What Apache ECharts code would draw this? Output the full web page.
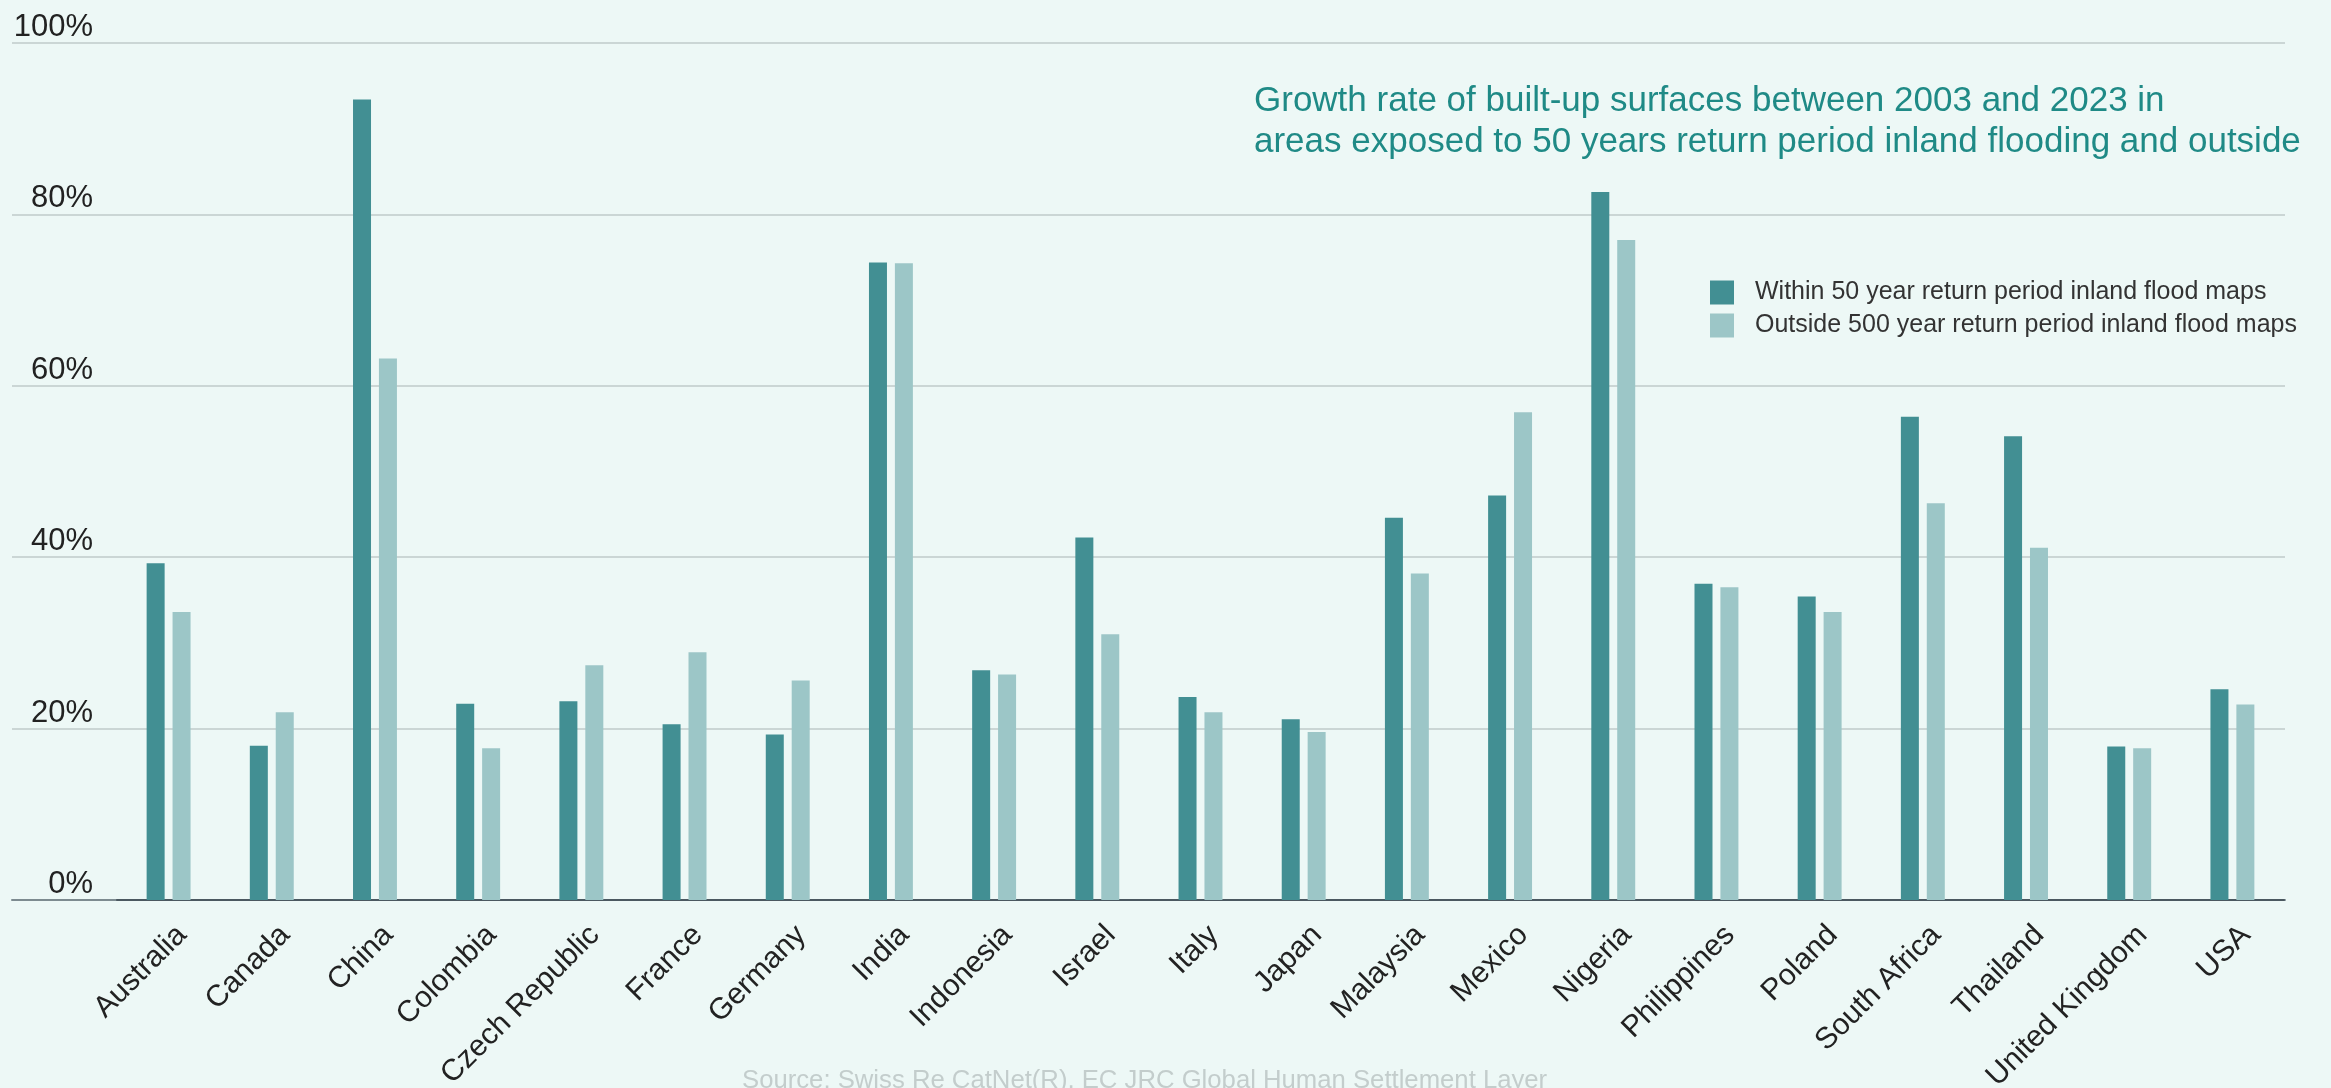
<!DOCTYPE html>
<html>
<head>
<meta charset="utf-8">
<script src="https://cdn.jsdelivr.net/npm/echarts@6/dist/echarts.min.js"></script>
<style>
html,body{margin:0;padding:0;background:#edf8f6;}
#c{width:2331px;height:1088px;}
</style>
</head>
<body>
<div id="c"></div>
<script>
const categories = ["Australia","Canada","China","Colombia","Czech Republic","France","Germany","India","Indonesia","Israel","Italy","Japan","Malaysia","Mexico","Nigeria","Philippines","Poland","South Africa","Thailand","United Kingdom","USA"];
const within50 = [39.3,18.0,93.4,22.9,23.2,20.5,19.3,74.4,26.8,42.3,23.7,21.1,44.6,47.2,82.6,36.9,35.4,56.4,54.1,17.9,24.6];
const outside500 = [33.6,21.9,63.2,17.7,27.4,28.9,25.6,74.3,26.3,31.0,21.9,19.6,38.1,56.9,77.0,36.5,33.6,46.3,41.1,17.7,22.8];
const yTicks = [0,20,40,60,80,100];
const seriesNames = ["Within 50 year return period inland flood maps","Outside 500 year return period inland flood maps"];
const titleText = "Growth rate of built-up surfaces between 2003 and 2023 in\nareas exposed to 50 years return period inland flooding and outside";
const sourceText = "Source: Swiss Re CatNet(R), EC JRC Global Human Settlement Layer";

const FONT = "Liberation Sans";
const chart = echarts.init(document.getElementById('c'), null, {renderer:'canvas'});
chart.setOption({
  backgroundColor: '#edf8f6',
  animation: false,
  textStyle: {fontFamily: FONT},
  title: {
    text: titleText,
    left: 1249, top: 76,
    textStyle: {fontFamily: FONT, fontSize: 35, lineHeight: 41, fontWeight: 'normal', color: '#1f8a86'}
  },
  legend: {
    orient: 'vertical', left: 1705, top: 275,
    itemWidth: 24, itemHeight: 24, itemGap: 8,
    icon: 'rect',
    data: seriesNames,
    textStyle: {fontFamily: FONT, fontSize: 25, color: '#333', padding: [0,0,0,16]}
  },
  graphic: [{
    type: 'text', left: 742, top: 1068,
    style: {text: sourceText, font: '25.7px "Liberation Sans"', fill: '#c3cdcc'}
  }],
  grid: [
    {left: 12, right: 46, top: 43, bottom: 188, containLabel: false, outerBoundsMode: 'none'},
    {left: 117, right: 47, top: 43, bottom: 188, containLabel: false, outerBoundsMode: 'none'}
  ],
  xAxis: [
    {type: 'value', gridIndex: 0, min: 0, max: 1, show: true,
     axisLine: {show: true, lineStyle: {color: '#7d8b90', width: 2}},
     axisTick: {show: false}, axisLabel: {show: false}, splitLine: {show: false}},
    {type: 'category', gridIndex: 1, data: categories,
     axisLine: {show: true, lineStyle: {color: '#4b5860', width: 2}},
     axisTick: {show: false},
     axisLabel: {interval: 0, rotate: 45, margin: 17, fontSize: 30, color: '#222', fontFamily: FONT,
       verticalAlign: 'top', padding: [4,0,0,0]}}
  ],
  yAxis: [
    {type: 'value', gridIndex: 0, min: 0, max: 100, interval: 20,
     axisLine: {show: false}, axisTick: {show: false},
     splitLine: {show: true, lineStyle: {color: '#cbd6d5', width: 2}},
     axisLabel: {inside: true, margin: 81, align: 'right', verticalAlign: 'bottom',
       padding: [0,0,0,0], fontSize: 31, color: '#222', fontFamily: FONT,
       formatter: v => yTicks.includes(v) ? v + '%' : ''}},
    {type: 'value', gridIndex: 1, min: 0, max: 100, interval: 20, show: false,
     splitLine: {show: false}}
  ],
  series: [
    {name: seriesNames[0], type: 'bar', xAxisIndex: 1, yAxisIndex: 1, data: within50,
     barWidth: 18, barGap: '44%', itemStyle: {color: '#428f93'}},
    {name: seriesNames[1], type: 'bar', xAxisIndex: 1, yAxisIndex: 1, data: outside500,
     barWidth: 18, barGap: '44%', itemStyle: {color: '#9cc6c7'}}
  ]
});
</script>
</body>
</html>
